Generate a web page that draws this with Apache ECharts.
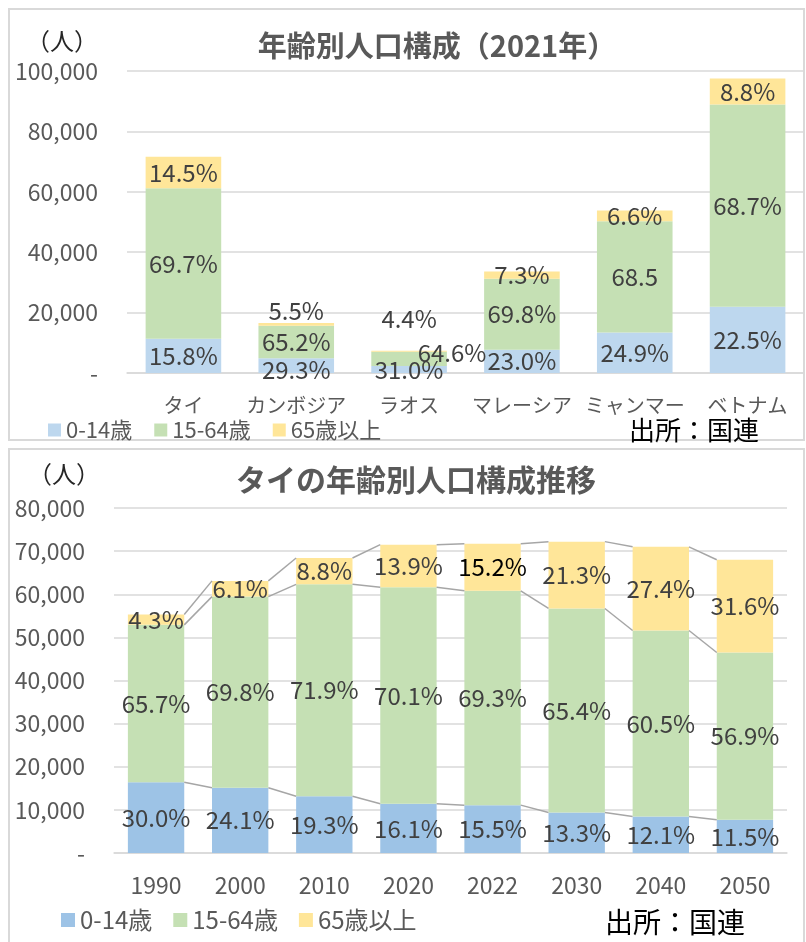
<!DOCTYPE html>
<html>
<head>
<meta charset="utf-8">
<script src="https://cdn.jsdelivr.net/npm/echarts@6/dist/echarts.min.js"></script>
<style>
  html, body { margin: 0; padding: 0; background: #fff; }
  #main { width: 806px; height: 942px; }
</style>
</head>
<body>
<div id="main"></div>
<script>
// 年齢別人口構成（2021年） 単位：千人
var countries = ['タイ', 'カンボジア', 'ラオス', 'マレーシア', 'ミャンマー', 'ベトナム'];
var pop0_14 = [11300, 4860, 2290, 7730, 13400, 21940];
var pop15_64 = [49900, 10820, 4780, 23450, 36850, 66980];
var pop65 = [10400, 910, 330, 2450, 3550, 8580];
var pct0_14 = ['15.8%', '29.3%', '31.0%', '23.0%', '24.9%', '22.5%'];
var pct15_64 = ['69.7%', '65.2%', '64.6%', '69.8%', '68.5', '68.7%'];
var pct65 = ['14.5%', '5.5%', '4.4%', '7.3%', '6.6%', '8.8%'];

// タイの年齢別人口構成推移
var years = ['1990', '2000', '2010', '2020', '2022', '2030', '2040', '2050'];
var th0_14 = [16400, 15150, 13150, 11400, 11100, 9400, 8450, 7700];
var th15_64 = [36500, 44300, 49150, 50200, 49700, 47300, 43150, 38800];
var th65 = [2400, 3650, 6100, 9900, 10900, 15500, 19400, 21500];
var thPct0_14 = ['30.0%', '24.1%', '19.3%', '16.1%', '15.5%', '13.3%', '12.1%', '11.5%'];
var thPct15_64 = ['65.7%', '69.8%', '71.9%', '70.1%', '69.3%', '65.4%', '60.5%', '56.9%'];
var thPct65 = ['4.3%', '6.1%', '8.8%', '13.9%', '15.2%', '21.3%', '27.4%', '31.6%'];

var legendNames = ['0-14歳', '15-64歳', '65歳以上'];

var NUM_FONT = "'Liberation Sans Narrow', 'Noto Sans CJK JP', sans-serif";
var JP_FONT = "'Noto Sans CJK JP', sans-serif";
var GRID_COLOR = '#D9D9D9';
var LABEL_COLOR = '#404040';

var myChart = echarts.init(document.getElementById('main'));

function yFmt(v) {
    return v === 0 ? '-' : v.toLocaleString('en-US');
}

function barLabel(texts) {
    return {
        show: true,
        position: 'inside',
        color: LABEL_COLOR,
        fontFamily: NUM_FONT,
        fontSize: 24,
        formatter: function (p) { return texts[p.dataIndex]; }
    };
}

// ラベル位置の個別調整（カンボジア・ラオス）
var topBlue = pop0_14.map(function (v, i) {
    if (i === 1) return { value: v, label: { offset: [0, 4] } };
    return v;
});
var topGreen = pop15_64.map(function (v, i) {
    if (i === 2) return { value: v, label: { offset: [43, -6] } };
    return v;
});
var topYellow = pop65.map(function (v, i) {
    if (i === 1) return { value: v, label: { position: 'top', distance: 0 } };
    if (i === 2) return { value: v, label: { position: 'top', distance: 20 } };
    return v;
});

var thYellowData = th65.map(function (v, i) {
    if (i === 4) return { value: v, label: { color: '#000' } };
    return v;
});

// 系列線（Excel の区分線）
var seriesLineData = years.slice(0, -1).map(function (y, i) { return [i, 0]; });
function renderSeriesLines(params, api) {
    var i = params.dataIndex;
    var half = api.size([1, 0])[0] * 0.67 / 2;
    var levels = [th0_14, th15_64, th65];
    var a = 0, b = 0;
    var children = [];
    for (var k = 0; k < levels.length; k++) {
        a += levels[k][i];
        b += levels[k][i + 1];
        var p1 = api.coord([i, a]);
        var p2 = api.coord([i + 1, b]);
        children.push({
            type: 'line',
            shape: { x1: p1[0] + half, y1: p1[1], x2: p2[0] - half, y2: p2[1] },
            style: { stroke: '#A6A6A6', lineWidth: 1.5 }
        });
    }
    return { type: 'group', children: children };
}

function gText(text, x, y, font, color) {
    return {
        type: 'text',
        x: x, y: y,
        z: 10,
        style: {
            text: text, font: font, fill: color,
            align: 'center', verticalAlign: 'middle',
            textAlign: 'center', textVerticalAlign: 'middle'
        }
    };
}

option = {
    animation: false,
    graphic: [
        { type: 'rect', shape: { x: 9, y: 9, width: 795, height: 431 }, style: { fill: 'none', stroke: GRID_COLOR, lineWidth: 2 } },
        { type: 'rect', shape: { x: 9, y: 449, width: 795, height: 500 }, style: { fill: 'none', stroke: GRID_COLOR, lineWidth: 2 } },
        gText('年齢別人口構成（2021年）', 437, 46, 'bold 29px ' + JP_FONT, '#595959'),
        gText('（人）', 62, 41, '24px ' + JP_FONT, '#262626'),
        gText('出所：国連', 694, 430, '26px ' + JP_FONT, '#000'),
        gText('タイの年齢別人口構成推移', 416, 480, 'bold 30px ' + JP_FONT, '#595959'),
        gText('（人）', 64, 474, '24px ' + JP_FONT, '#262626'),
        gText('出所：国連', 675, 922, '28px ' + JP_FONT, '#000')
    ],
    legend: [
        {
            data: legendNames,
            left: 48, top: 419, padding: 0,
            itemWidth: 13, itemHeight: 13, itemGap: 22,
            icon: 'rect',
            textStyle: { color: '#595959', fontSize: 22, fontFamily: NUM_FONT }
        },
        {
            data: [
                { name: '0-14歳', itemStyle: { color: '#9DC3E6' } },
                { name: '15-64歳', itemStyle: { color: '#C5E0B4' } },
                { name: '65歳以上', itemStyle: { color: '#FFE699' } }
            ],
            left: 61, top: 908, padding: 0,
            itemWidth: 14, itemHeight: 14, itemGap: 21,
            icon: 'rect',
            textStyle: { color: '#595959', fontSize: 24, fontFamily: NUM_FONT }
        }
    ],
    grid: [
        { left: 127, top: 71, width: 677, height: 302 },
        { left: 114, top: 508, width: 673, height: 345 }
    ],
    xAxis: [
        {
            type: 'category', gridIndex: 0, data: countries,
            axisLine: { lineStyle: { color: GRID_COLOR, width: 1.5 } },
            axisTick: { show: false },
            axisLabel: { color: '#595959', fontSize: 20, fontFamily: JP_FONT, margin: 22, interval: 0 }
        },
        {
            type: 'category', gridIndex: 1, data: years,
            axisLine: { lineStyle: { color: GRID_COLOR, width: 1.5 } },
            axisTick: { show: false },
            axisLabel: { color: '#595959', fontSize: 23, fontFamily: NUM_FONT, margin: 21, interval: 0 }
        }
    ],
    yAxis: [
        {
            type: 'value', gridIndex: 0, min: 0, max: 100000, interval: 20000,
            axisLine: { show: false }, axisTick: { show: false },
            splitLine: { lineStyle: { color: GRID_COLOR, width: 1.5 } },
            axisLabel: { color: '#595959', fontSize: 23, fontFamily: NUM_FONT, margin: 29, formatter: yFmt }
        },
        {
            type: 'value', gridIndex: 1, min: 0, max: 80000, interval: 10000,
            axisLine: { show: false }, axisTick: { show: false },
            splitLine: { lineStyle: { color: GRID_COLOR, width: 1.5 } },
            axisLabel: { color: '#595959', fontSize: 23, fontFamily: NUM_FONT, margin: 29, formatter: yFmt }
        }
    ],
    series: [
        { name: '0-14歳', type: 'bar', stack: 'a', xAxisIndex: 0, yAxisIndex: 0, barCategoryGap: '33%',
          itemStyle: { color: '#BDD7EE' }, label: barLabel(pct0_14), data: topBlue },
        { name: '15-64歳', type: 'bar', stack: 'a', xAxisIndex: 0, yAxisIndex: 0, barCategoryGap: '33%',
          itemStyle: { color: '#C5E0B4' }, label: barLabel(pct15_64), data: topGreen },
        { name: '65歳以上', type: 'bar', stack: 'a', xAxisIndex: 0, yAxisIndex: 0, barCategoryGap: '33%',
          itemStyle: { color: '#FFE699' }, label: barLabel(pct65), data: topYellow },

        { name: '0-14歳', type: 'bar', stack: 'b', xAxisIndex: 1, yAxisIndex: 1, barCategoryGap: '33%',
          itemStyle: { color: '#9DC3E6' }, label: barLabel(thPct0_14), data: th0_14 },
        { name: '15-64歳', type: 'bar', stack: 'b', xAxisIndex: 1, yAxisIndex: 1, barCategoryGap: '33%',
          itemStyle: { color: '#C5E0B4' }, label: barLabel(thPct15_64), data: th15_64 },
        { name: '65歳以上', type: 'bar', stack: 'b', xAxisIndex: 1, yAxisIndex: 1, barCategoryGap: '33%',
          itemStyle: { color: '#FFE699' }, label: barLabel(thPct65), data: thYellowData },
        { type: 'custom', xAxisIndex: 1, yAxisIndex: 1, silent: true, z: 3,
          renderItem: renderSeriesLines, data: seriesLineData }
    ]
};
myChart.setOption(option);
</script>
</body>
</html>
